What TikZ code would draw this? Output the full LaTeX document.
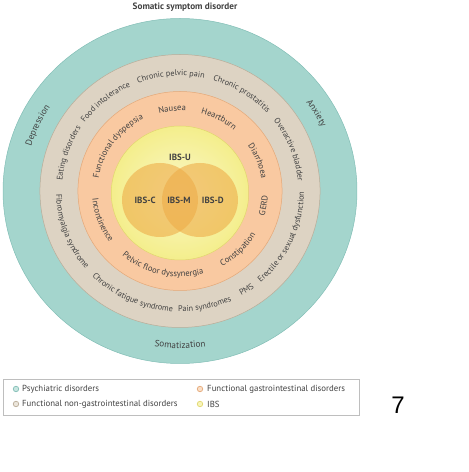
\documentclass[tikz,border=0pt]{standalone}
\usepackage{fontspec}
\setmainfont{PT Sans}
\setsansfont{PT Sans}
\newfontfamily\digitfont{Liberation Sans}
\usetikzlibrary{decorations.text}
\definecolor{tealring}{RGB}{164,213,205}
\definecolor{tealedge}{RGB}{130,190,182}
\definecolor{beigering}{RGB}{221,211,195}
\definecolor{beigeedge}{RGB}{185,172,152}
\definecolor{orangering}{RGB}{249,201,161}
\definecolor{orangeedge}{RGB}{228,168,120}
\definecolor{yellowout}{RGB}{244,238,140}
\definecolor{yellowin}{RGB}{250,247,200}
\definecolor{yellowedge}{RGB}{225,215,110}
\definecolor{venn}{RGB}{238,172,72}
\definecolor{txt}{RGB}{65,65,65}
\definecolor{legendedge}{RGB}{190,190,190}
\newcommand\rf{\sffamily\fontsize{8.2}{10}\selectfont}
\newcommand\rfo{\sffamily\fontsize{8.6}{10}\selectfont}
\newcommand\rfb{\sffamily\fontsize{9.2}{10}\selectfont}
\newcommand\cwtext[5][\rf]{%
  \pgfmathsetmacro\rb{#2-2.8}%
  \path[decorate,decoration={text along path,text={|#1|#5},text align=center,text color=txt}]
    (C) ++({#3+#4}:\rb pt) arc[start angle={#3+#4}, end angle={#3-#4}, radius=\rb pt];}
\newcommand\ccwtext[5][\rf]{%
  \pgfmathsetmacro\rb{#2+2.8}%
  \path[decorate,decoration={text along path,text={|#1|#5},text align=center,text color=txt}]
    (C) ++({#3-#4}:\rb pt) arc[start angle={#3-#4}, end angle={#3+#4}, radius=\rb pt];}
\tikzset{
  ibs/.style={font=\sffamily\bfseries\fontsize{9}{10}\selectfont, text=txt},
  legtext/.style={font=\sffamily\fontsize{8.8}{10}\selectfont, text=txt, anchor=west, inner sep=0pt},
  legmark/.style={circle, minimum size=5.5pt, inner sep=0pt, line width=0.7pt},
}
\begin{document}
\begin{tikzpicture}[x=1pt,y=1pt]
\useasboundingbox (0,0) rectangle (469,472);
% title
\node[font=\sffamily\bfseries\fontsize{9.2}{10}\selectfont, text=txt] (title) at (185,465) {Somatic symptom disorder};
\begin{scope}[shift={(180,281)}, xscale=1.026]
\coordinate (C) at (0,0);
% rings
\fill[tealring, draw=tealedge, line width=0.5pt] (C) circle (172.5pt);
\fill[beigering, draw=beigeedge, line width=0.5pt] (C) circle (136.5pt);
\fill[orangering, draw=orangeedge, line width=0.5pt] (C) circle (99.5pt);
\shade[inner color=yellowin, outer color=yellowout] (0,-2) circle (67pt);
\draw[yellowedge, line width=0.5pt] (0,-2) circle (67pt);
% venn
\fill[venn, opacity=0.6] (-19.5,-9) circle (37pt);
\fill[venn, opacity=0.6] (19.5,-9) circle (37pt);
\node[ibs] (ibsu) at (0,34) {IBS-U};
\node[ibs] (ibsc) at (-34,-9) {IBS-C};
\node[ibs] (ibsm) at (-1,-9) {IBS-M};
\node[ibs] (ibsd) at (32,-9) {IBS-D};
% teal ring texts
\cwtext[\rfb]{154.5}{155}{40}{Depression}
\cwtext[\rfb]{154.5}{30}{40}{Anxiety}
\ccwtext[\rfb]{154.5}{-90}{40}{Somatization}
% beige ring texts
\cwtext{118}{94.5}{40}{Chronic pelvic pain}
\cwtext{118}{58}{40}{Chronic prostatitis}
\cwtext{118}{21}{40}{Overactive bladder}
\cwtext{118}{129.5}{40}{Food intolerance}
\cwtext{118}{161}{40}{Eating disorders}
\ccwtext{118}{-159.3}{50}{Fibromyalgia syndrome}
\ccwtext{118}{-114.5}{50}{Chronic fatigue syndrome}
\ccwtext{118}{-78}{40}{Pain syndromes}
\ccwtext{118}{-56.5}{30}{PMS}
\ccwtext{118}{-24.5}{70}{Erectile or sexual dysfunction}
% orange ring texts
\cwtext[\rfo]{83}{95.4}{40}{Nausea}
\cwtext[\rfo]{83}{62}{40}{Heartburn}
\cwtext[\rfo]{83}{21.4}{40}{Diarrhoea}
\cwtext[\rfo]{83}{144}{70}{Functional dyspepsia}
\ccwtext[\rfo]{83}{-159.3}{50}{Incontinence}
\ccwtext[\rfo]{83}{-103}{80}{Pelvic floor dyssynergia}
\ccwtext[\rfo]{83}{-45.7}{50}{Constipation}
\ccwtext[\rfo]{83}{-10}{30}{GERD}
\end{scope}
% legend
\draw[legendedge, line width=0.5pt] (3,57) rectangle (359,93);
\node[legmark, draw=tealedge, fill=tealring!60] (m1) at (16,83) {};
\node[legtext] (t1) at (22,83) {Psychiatric disorders};
\node[legmark, draw=beigeedge, fill=beigering!60] (m2) at (16,68) {};
\node[legtext] (t2) at (22,68) {Functional non-gastrointestinal disorders};
\node[legmark, draw=orangeedge, fill=orangering!60] (m3) at (200,83) {};
\node[legtext] (t3) at (207,83) {Functional gastrointestinal disorders};
\node[legmark, draw=yellowedge, fill=yellowout!60] (m4) at (200,68) {};
\node[legtext] (t4) at (207,68) {IBS};
% page number
\node[font=\digitfont\fontsize{24}{28}\selectfont, text=black] (num) at (398,67) {7};
\end{tikzpicture}
\end{document}
